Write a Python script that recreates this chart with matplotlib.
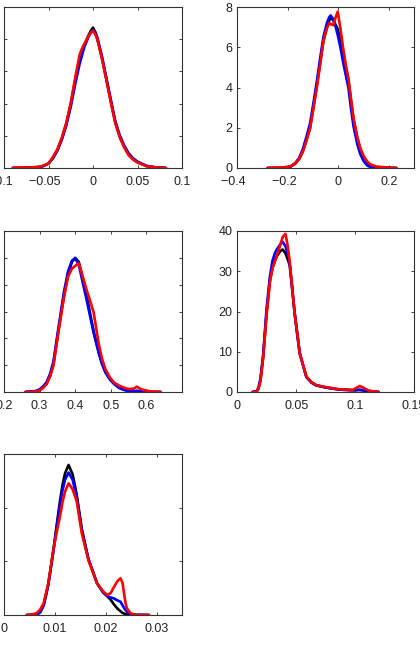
import matplotlib
matplotlib.use("Agg")
import matplotlib.pyplot as plt
from matplotlib import ticker

plt.rcParams['font.family'] = ['Liberation Sans', 'DejaVu Sans']

# ---------------- Panel 1 ----------------
p1_x = [-0.09, -0.07, -0.06, -0.055, -0.05, -0.045, -0.04, -0.035, -0.03, -0.025, -0.02,
        -0.015, -0.0125, -0.01, -0.005, -0.0025, 0.0, 0.0025, 0.005, 0.01, 0.015, 0.02,
        0.025, 0.03, 0.035, 0.04, 0.045, 0.05, 0.06, 0.07, 0.082]
p1_black = [0.0, 0.05, 0.15, 0.35, 0.7, 1.6, 2.8, 4.6, 6.9, 9.9, 13.6, 16.9, 17.9, 19.0,
            20.6, 21.3, 21.8, 21.1, 20.0, 17.1, 13.8, 10.4, 7.1, 4.9, 3.3, 2.1, 1.4, 0.9,
            0.3, 0.1, 0.0]
p1_blue = [0.0, 0.05, 0.15, 0.35, 0.7, 1.5, 2.7, 4.4, 6.6, 9.5, 13.0, 16.2, 17.4, 18.7,
           20.4, 21.0, 21.4, 21.1, 20.2, 17.4, 14.0, 10.6, 7.3, 5.1, 3.5, 2.3, 1.5, 1.0,
           0.35, 0.1, 0.0]
p1_red = [0.05, 0.1, 0.2, 0.4, 0.7, 1.7, 2.9, 4.7, 7.0, 10.1, 14.0, 17.6, 18.5, 19.2,
          20.5, 21.0, 21.3, 20.8, 19.9, 17.0, 13.7, 10.2, 7.0, 4.8, 3.2, 2.0, 1.3, 0.85,
          0.3, 0.1, 0.0]

# ---------------- Panel 2 ----------------
p2_x = [-0.28, -0.22, -0.19, -0.17, -0.155, -0.14, -0.125, -0.112, -0.1, -0.085, -0.07,
        -0.059, -0.045, -0.0356, -0.03, -0.02, -0.01, -0.002, 0.01, 0.02, 0.03, 0.04,
        0.05, 0.06, 0.075, 0.087, 0.1, 0.115, 0.127, 0.15, 0.2, 0.23]
p2_black = [0.0, 0.0, 0.06, 0.22, 0.45, 0.85, 1.45, 2.0, 2.9, 4.1, 5.4, 6.3, 7.0, 7.35,
            7.45, 7.35, 7.1, 6.9, 6.2, 5.5, 5.0, 4.4, 3.4, 2.45, 1.5, 0.95, 0.55, 0.28,
            0.15, 0.05, 0.01, 0.0]
p2_blue = [0.0, 0.0, 0.07, 0.25, 0.5, 0.95, 1.6, 2.2, 3.1, 4.3, 5.6, 6.5, 7.2, 7.5,
           7.58, 7.4, 7.0, 6.6, 5.9, 5.2, 4.6, 4.0, 3.0, 2.1, 1.2, 0.7, 0.35, 0.12,
           0.05, 0.0, 0.0, 0.0]
p2_red = [0.0, 0.03, 0.08, 0.22, 0.45, 0.82, 1.4, 1.95, 2.85, 4.0, 5.3, 6.3, 6.95, 7.2,
          7.15, 7.1, 7.5, 7.77, 6.8, 5.9, 5.1, 4.45, 3.45, 2.5, 1.55, 1.0, 0.6, 0.32,
          0.18, 0.07, 0.02, 0.0]

# ---------------- Panel 3 ----------------
p3_x = [0.26, 0.29, 0.30, 0.31, 0.32, 0.33, 0.339, 0.353, 0.368, 0.38, 0.391, 0.40, 0.41,
        0.42, 0.431, 0.443, 0.452, 0.466, 0.475, 0.485, 0.497, 0.509, 0.523, 0.537, 0.55,
        0.565, 0.573, 0.585, 0.61, 0.64]
p3_black = [0.0, 0.05, 0.15, 0.35, 0.65, 1.25, 2.1, 4.6, 7.1, 8.8, 9.7, 10.0, 9.7, 8.6,
            7.3, 5.7, 4.5, 3.0, 2.2, 1.5, 1.0, 0.65, 0.4, 0.25, 0.1, 0.05, 0.03, 0.0,
            0.0, 0.0]
p3_blue = [0.0, 0.08, 0.2, 0.42, 0.75, 1.4, 2.3, 4.8, 7.4, 9.0, 9.8, 9.95, 9.5, 8.3,
           7.0, 5.5, 4.4, 2.9, 2.1, 1.45, 0.95, 0.6, 0.3, 0.15, 0.05, 0.05, 0.1, 0.03,
           0.0, 0.0]
p3_red = [0.0, 0.03, 0.12, 0.3, 0.6, 1.2, 2.0, 4.5, 7.0, 8.6, 9.2, 9.4, 9.6, 8.7, 7.7,
          6.7, 5.9, 3.6, 2.5, 1.7, 1.1, 0.7, 0.48, 0.32, 0.22, 0.25, 0.4, 0.2, 0.05, 0.0]

# ---------------- Panel 4 ----------------
p4_x = [0.013, 0.0164, 0.018, 0.0197, 0.022, 0.0248, 0.0276, 0.0298, 0.0318, 0.0333,
        0.0365, 0.0385, 0.0409, 0.0425, 0.0445, 0.0465, 0.0487, 0.053, 0.0586, 0.063,
        0.067, 0.0755, 0.0867, 0.098, 0.104, 0.112, 0.12]
p4_black = [0.0, 0.1, 0.9, 3.0, 8.8, 19.5, 27.5, 30.8, 32.5, 33.6, 35.0, 35.4, 34.5,
            33.2, 31.5, 26.0, 19.5, 9.6, 3.8, 2.4, 1.7, 1.1, 0.6, 0.45, 0.5, 0.2, 0.0]
p4_blue = [0.0, 0.2, 1.1, 3.4, 9.4, 20.5, 28.5, 32.5, 34.4, 35.3, 36.7, 37.3, 36.2,
           34.6, 31.8, 26.0, 19.6, 9.5, 3.7, 2.3, 1.6, 1.1, 0.6, 0.45, 0.55, 0.25, 0.0]
p4_red = [0.0, 0.1, 0.8, 2.8, 8.6, 19.0, 27.2, 30.6, 32.4, 33.6, 36.5, 38.5, 39.3,
          36.8, 32.5, 26.2, 19.5, 9.7, 3.9, 2.4, 1.7, 1.2, 0.66, 0.5, 1.5, 0.3, 0.0]

# ---------------- Panel 5 ----------------
p5_x = [0.0045, 0.0055, 0.0064, 0.0071, 0.0078, 0.0087, 0.0097, 0.0104, 0.011, 0.0115,
        0.012, 0.0127, 0.0135, 0.0143, 0.0153, 0.0166, 0.0183, 0.0195, 0.0203, 0.021,
        0.0216, 0.0223, 0.0229, 0.0233, 0.0239, 0.0242, 0.0249, 0.026, 0.0285]
p5_black = [0.0, 0.0, 0.3, 2.5, 9.0, 28.0, 60.0, 85.0, 106.0, 121.0, 132.0, 139.8,
            131.0, 112.0, 80.0, 52.0, 29.5, 21.0, 17.5, 14.0, 10.0, 6.0, 3.5, 2.0, 0.8,
            0.4, 0.0, 0.0, 0.0]
p5_blue = [0.0, 0.0, 0.3, 2.5, 9.0, 28.0, 59.0, 83.0, 102.0, 116.0, 126.0, 132.7, 126.0,
           109.0, 79.0, 52.0, 29.5, 21.0, 17.8, 16.2, 15.5, 13.6, 12.4, 9.0, 4.5, 3.0,
           0.8, 0.2, 0.0]
p5_red = [0.0, 0.6, 1.6, 5.0, 10.9, 29.5, 60.6, 78.0, 91.6, 105.0, 115.0, 122.7, 117.0,
          106.0, 76.0, 51.0, 29.5, 22.0, 18.6, 20.5, 26.0, 31.5, 34.2, 30.0, 10.9, 6.0,
          1.6, 0.0, 0.0]

panels = [
    dict(x=p1_x, ys=(p1_black, p1_blue, p1_red), xlim=(-0.1, 0.1), ylim=(0, 25),
         xt=[-0.1, -0.05, 0, 0.05, 0.1], yt=[0, 5, 10, 15, 20, 25], box=(4, 7, 182, 168)),
    dict(x=p2_x, ys=(p2_black, p2_blue, p2_red), xlim=(-0.4, 0.3), ylim=(0, 8),
         xt=[-0.4, -0.2, 0, 0.2], yt=[0, 2, 4, 6, 8], box=(237.3, 7, 414, 168)),
    dict(x=p3_x, ys=(p3_black, p3_blue, p3_red), xlim=(0.2, 0.7), ylim=(0, 12),
         xt=[0.2, 0.3, 0.4, 0.5, 0.6], yt=[0, 2, 4, 6, 8, 10, 12], box=(4, 231, 182, 392)),
    dict(x=p4_x, ys=(p4_black, p4_blue, p4_red), xlim=(0, 0.15), ylim=(0, 40),
         xt=[0, 0.05, 0.1, 0.15], yt=[0, 10, 20, 30, 40], box=(237.3, 231, 414, 392)),
    dict(x=p5_x, ys=(p5_black, p5_blue, p5_red), xlim=(0, 0.035), ylim=(0, 150),
         xt=[0, 0.01, 0.02, 0.03], yt=[0, 50, 100, 150], box=(4, 454, 182, 615)),
]

W, H = 420, 657
fig = plt.figure(figsize=(W / 100, H / 100), dpi=100)
colors = ['black', '#0000ff', '#ff0000']


def xfmt(v, p):
    s = '%g' % v
    if v < 0:
        # number centred on its digits, minus sign hanging to the left
        return '\u2212' + s[1:] + '  '
    return s


yfmt = ticker.FuncFormatter(lambda v, p: '%g' % v)

for pn in panels:
    x0, y0, x1, y1 = pn['box']
    ax = fig.add_axes([x0 / W, 1 - y1 / H, (x1 - x0) / W, (y1 - y0) / H])
    for y, c in zip(pn['ys'], colors):
        ax.plot(pn['x'], y, color=c, lw=1.9, solid_joinstyle='round', solid_capstyle='round')
    ax.set_xlim(*pn['xlim'])
    ax.set_ylim(*pn['ylim'])
    ax.set_xticks(pn['xt'])
    ax.set_yticks(pn['yt'])
    ax.xaxis.set_major_formatter(ticker.FuncFormatter(xfmt))
    ax.yaxis.set_major_formatter(yfmt)
    ax.tick_params(direction='in', length=2.5, width=0.6, top=True, right=True,
                   labelsize=9, colors='#222222')
    ax.tick_params(axis='x', pad=5.5)
    ax.tick_params(axis='y', pad=3.5)
    for s in ax.spines.values():
        s.set_linewidth(0.8)
        s.set_color('#333333')

fig.savefig('out.png', dpi=100)
